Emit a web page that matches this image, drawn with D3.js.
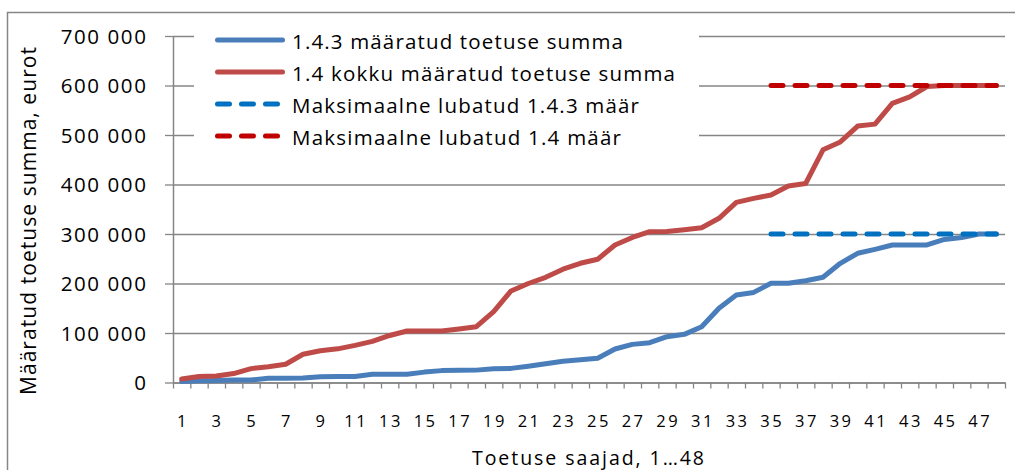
<!DOCTYPE html>
<html><head><meta charset="utf-8">
<script src="https://cdn.jsdelivr.net/npm/d3@7"></script>
<style>
html,body{margin:0;padding:0;background:#fff;}
svg{display:block;}
text{font-family:"Open Sans",Lato,sans-serif;fill:#000;}
</style></head><body>
<svg id="chart" width="1015" height="470"></svg>
<script>
const categories = [1,2,3,4,5,6,7,8,9,10,11,12,13,14,15,16,17,18,19,20,21,22,23,24,25,26,27,28,29,30,31,32,33,34,35,36,37,38,39,40,41,42,43,44,45,46,47,48];
const xTickLabels = [1,3,5,7,9,11,13,15,17,19,21,23,25,27,29,31,33,35,37,39,41,43,45,47];
const yTicks = [0,100000,200000,300000,400000,500000,600000,700000];
const seriesNames = ["1.4.3 määratud  toetuse summa","1.4 kokku määratud  toetuse summa","Maksimaalne lubatud 1.4.3 määr","Maksimaalne lubatud 1.4 määr"];
const total143 = [2000,3500,4000,5000,5000,8500,8500,9000,11700,12000,12300,16500,16500,16500,21000,24000,24600,25000,28000,28500,33000,38000,42800,46000,49000,67700,77000,80400,92500,97300,112700,150000,176800,182000,200400,200400,205700,212500,240800,261000,269000,277800,277800,277800,289000,293000,300000,300000];
const total14 = [7000,12000,13000,18000,28000,32000,36800,57000,64000,68000,75000,83000,95000,104000,104000,104000,108000,112700,143000,185000,200000,212500,229000,240800,249000,277800,293000,304700,305000,308700,312700,331700,364000,372000,378800,397000,402000,470000,486000,518000,522000,564000,577000,598000,600000,600000,600000,600000];
const limitCats = [35,36,37,38,39,40,41,42,43,44,45,46,47,48];
const limit143 = [300000,300000,300000,300000,300000,300000,300000,300000,300000,300000,300000,300000,300000,300000];
const limit14 = [600000,600000,600000,600000,600000,600000,600000,600000,600000,600000,600000,600000,600000,600000];
const yTitle = "Määratud toetuse summa, eurot";
const xTitle = "Toetuse saajad,  1…48";

const colors = {blue:"#4A7EBB", red:"#BE4B48", dblue:"#0070C0", dred:"#C00000", axis:"#868686"};
const svg = d3.select("#chart");
const plot = {left:173, right:1005, top:36, bottom:382.5};

svg.append("rect").attr("x",7.5).attr("y",12.5).attr("width",1040).attr("height",490)
  .attr("fill","#fff").attr("stroke",colors.axis).attr("stroke-width",1.5);

const x = d3.scaleBand().domain(categories).range([plot.left, plot.right]).padding(0);
const xb = d3.scaleLinear().domain([0, categories.length]).range([plot.left, plot.right]);
const y = d3.scaleLinear().domain([0,700000]).range([plot.bottom, plot.top]);
const fmt = v => d3.format(",")(v).replace(/,/g," ");
const cx = c => x(c) + x.bandwidth()/2;

// gridlines
const grid = svg.append("g").attr("transform",`translate(${plot.left},0)`)
  .call(d3.axisLeft(y).tickValues(yTicks).tickSize(-(plot.right-plot.left)).tickFormat(""));
grid.select(".domain").remove();
grid.selectAll("line").attr("stroke",colors.axis).attr("stroke-width",1.3);

// y axis
const yAxis = svg.append("g").attr("transform",`translate(${plot.left},0)`)
  .call(d3.axisLeft(y).tickValues(yTicks).tickSize(8).tickSizeOuter(0).tickPadding(17.5).tickFormat(fmt));
yAxis.select(".domain").attr("stroke",colors.axis).attr("stroke-width",1.5);
yAxis.selectAll("line").attr("stroke",colors.axis).attr("stroke-width",1.3);
yAxis.selectAll("text").style("font-size","20.5px").style("letter-spacing","1.6px").attr("dy","0.36em").attr("fill","#000");

// x axis: boundary ticks
const xTicks = svg.append("g").attr("transform",`translate(0,${plot.bottom})`)
  .call(d3.axisBottom(xb).tickValues(d3.range(0, categories.length+1)).tickSize(6).tickSizeOuter(0).tickFormat(""));
xTicks.select(".domain").attr("stroke",colors.axis).attr("stroke-width",1.5);
xTicks.selectAll("line").attr("stroke",colors.axis).attr("stroke-width",1.3);

// x labels
const xLab = svg.append("g").attr("transform",`translate(0,${plot.bottom})`)
  .call(d3.axisBottom(x).tickValues(xTickLabels).tickSize(0).tickPadding(32.5));
xLab.select(".domain").remove();
xLab.selectAll("text").style("font-size","16.5px").style("letter-spacing","2.5px").attr("dx","1.25px").attr("fill","#000");

// series
const line = d3.line().x(d => cx(d.c)).y(d => y(d.v));
const mk = (cats, vals) => cats.map((c,i)=>({c, v: vals[i]}));
svg.append("path").datum(mk(categories,total143)).attr("d",line)
  .attr("fill","none").attr("stroke",colors.blue).attr("stroke-width",5).attr("stroke-linejoin","round").attr("stroke-linecap","round");
svg.append("path").datum(mk(categories,total14)).attr("d",line)
  .attr("fill","none").attr("stroke",colors.red).attr("stroke-width",5).attr("stroke-linejoin","round").attr("stroke-linecap","round");
svg.append("path").datum(mk(limitCats,limit143)).attr("d",line)
  .attr("fill","none").attr("stroke",colors.dblue).attr("stroke-width",5).attr("stroke-dasharray","12,12").attr("stroke-linecap","round");
svg.append("path").datum(mk(limitCats,limit14)).attr("d",line)
  .attr("fill","none").attr("stroke",colors.dred).attr("stroke-width",5).attr("stroke-dasharray","12,12").attr("stroke-linecap","round");

// legend
svg.append("rect").attr("x",194).attr("y",18).attr("width",505).attr("height",134).attr("fill","#fff");
const legendStyles = [
  {c:colors.blue, dash:null, w:331},
  {c:colors.red, dash:null, w:383},
  {c:colors.dblue, dash:"12,12", w:347},
  {c:colors.dred, dash:"12,12", w:329}
];
const lg = svg.append("g");
seriesNames.forEach((name,i)=>{
  const yy = 40 + i*32;
  const l = lg.append("line").attr("x1",217.5).attr("x2",282.5).attr("y1",yy).attr("y2",yy)
    .attr("stroke",legendStyles[i].c).attr("stroke-width",5).attr("stroke-linecap","round");
  if (legendStyles[i].dash) l.attr("stroke-dasharray",legendStyles[i].dash);
  lg.append("text").attr("x",292).attr("y",yy+8.5).style("font-size","20.5px")
    .attr("textLength",legendStyles[i].w).attr("lengthAdjust","spacing").text(name);
});

// titles
svg.append("text").attr("x",472).attr("y",465).style("font-size","19.5px")
  .attr("textLength",232).attr("lengthAdjust","spacing").text(xTitle);
svg.append("text").attr("transform","translate(36,395) rotate(-90)").style("font-size","21px")
  .attr("textLength",348).attr("lengthAdjust","spacing").text(yTitle);
</script>
</body></html>
